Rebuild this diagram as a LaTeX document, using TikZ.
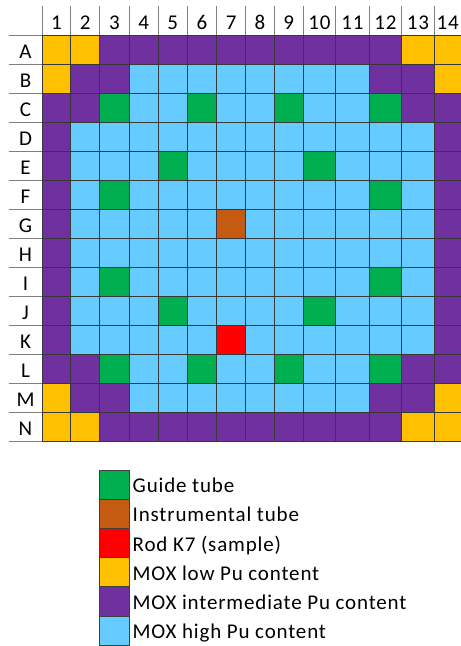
\documentclass[tikz,border=0pt]{standalone}
\usepackage{fontspec}
\setmainfont{Carlito}[LetterSpace=4]
\definecolor{cy}{HTML}{FFC000}
\definecolor{cp}{HTML}{7030A0}
\definecolor{cb}{HTML}{66CCFF}
\definecolor{cg}{HTML}{00B050}
\definecolor{co}{HTML}{C55A11}
\definecolor{cr}{HTML}{FF0000}
\begin{document}
\begin{tikzpicture}[x=1pt,y=-1pt,
  cell/.style={draw=black!78,line width=1pt},
  gline/.style={draw=black!50,line width=1pt},
  lab/.style={font=\fontsize{21}{24}\selectfont,inner sep=0pt,text=black},
  legbox/.style={draw=black!75,line width=0.7pt},
]
\useasboundingbox (0,0) rectangle (461,646);
\def\xs{{42,70.7,99.8,129,158.2,187.4,216.6,245.6,274.3,303.3,335.7,369,401.7,434.3,467}}
\def\rh{29.05}
% header vertical lines
\foreach \j in {0,...,14}{
  \pgfmathsetmacro\xx{\xs[\j]}
  \draw[gline] (\xx,6) -- (\xx,35);
}
% left label horizontal lines
\foreach \i in {0,...,14}{
  \pgfmathsetmacro\yy{35+\i*\rh}
  \draw[gline] (9,\yy) -- (42,\yy);
}
% cells
\foreach \row [count=\i from 0] in {
 {cy,cy,cp,cp,cp,cp,cp,cp,cp,cp,cp,cp,cy,cy},
 {cy,cp,cp,cb,cb,cb,cb,cb,cb,cb,cb,cp,cp,cy},
 {cp,cp,cg,cb,cb,cg,cb,cb,cg,cb,cb,cg,cp,cp},
 {cp,cb,cb,cb,cb,cb,cb,cb,cb,cb,cb,cb,cb,cp},
 {cp,cb,cb,cb,cg,cb,cb,cb,cb,cg,cb,cb,cb,cp},
 {cp,cb,cg,cb,cb,cb,cb,cb,cb,cb,cb,cg,cb,cp},
 {cp,cb,cb,cb,cb,cb,co,cb,cb,cb,cb,cb,cb,cp},
 {cp,cb,cb,cb,cb,cb,cb,cb,cb,cb,cb,cb,cb,cp},
 {cp,cb,cg,cb,cb,cb,cb,cb,cb,cb,cb,cg,cb,cp},
 {cp,cb,cb,cb,cg,cb,cb,cb,cb,cg,cb,cb,cb,cp},
 {cp,cb,cb,cb,cb,cb,cr,cb,cb,cb,cb,cb,cb,cp},
 {cp,cp,cg,cb,cb,cg,cb,cb,cg,cb,cb,cg,cp,cp},
 {cy,cp,cp,cb,cb,cb,cb,cb,cb,cb,cb,cp,cp,cy},
 {cy,cy,cp,cp,cp,cp,cp,cp,cp,cp,cp,cp,cy,cy}}{
  \foreach \c [count=\j from 0] in \row {
    \pgfmathsetmacro\xa{\xs[\j]}
    \pgfmathsetmacro\xb{\xs[\j+1]}
    \pgfmathsetmacro\ya{35+\i*\rh}
    \pgfmathsetmacro\yb{35+(\i+1)*\rh}
    \draw[cell,fill=\c] (\xa,\ya) rectangle (\xb,\yb);
  }
}
% column labels
\foreach \t [count=\j from 0] in {1,...,14}{
  \pgfmathsetmacro\xa{\xs[\j]}
  \pgfmathsetmacro\xb{\xs[\j+1]}
  \pgfmathsetmacro\xm{(\xa+min(\xb,461))/2}
  \node[lab,anchor=base] (col\t) at (\xm,29.3) {\t};
}
% row labels
\foreach \t [count=\i from 0] in {A,B,C,D,E,F,G,H,I,J,K,L,M,N}{
  \pgfmathsetmacro\ym{35+\i*\rh+23}
  \node[lab,anchor=base] (row\t) at (25.5,\ym) {\t};
}
% legend
\def\lh{29.2}
\foreach \c/\t [count=\i from 0] in {cg/Guide tube,co/Instrumental tube,cr/Rod K7 (sample),cy/MOX low Pu content,cp/MOX intermediate Pu content,cb/MOX high Pu content}{
  \pgfmathsetmacro\ya{470+\i*\lh}
  \pgfmathsetmacro\yb{470+(\i+1)*\lh}
  \pgfmathsetmacro\ym{470+\i*\lh+22.7}
  \draw[legbox,fill=\c] (99,\ya) rectangle (129,\yb);
  \node[lab,anchor=base west] (leg\i) at (132.5,\ym) {\t};
}
\end{tikzpicture}
\end{document}
